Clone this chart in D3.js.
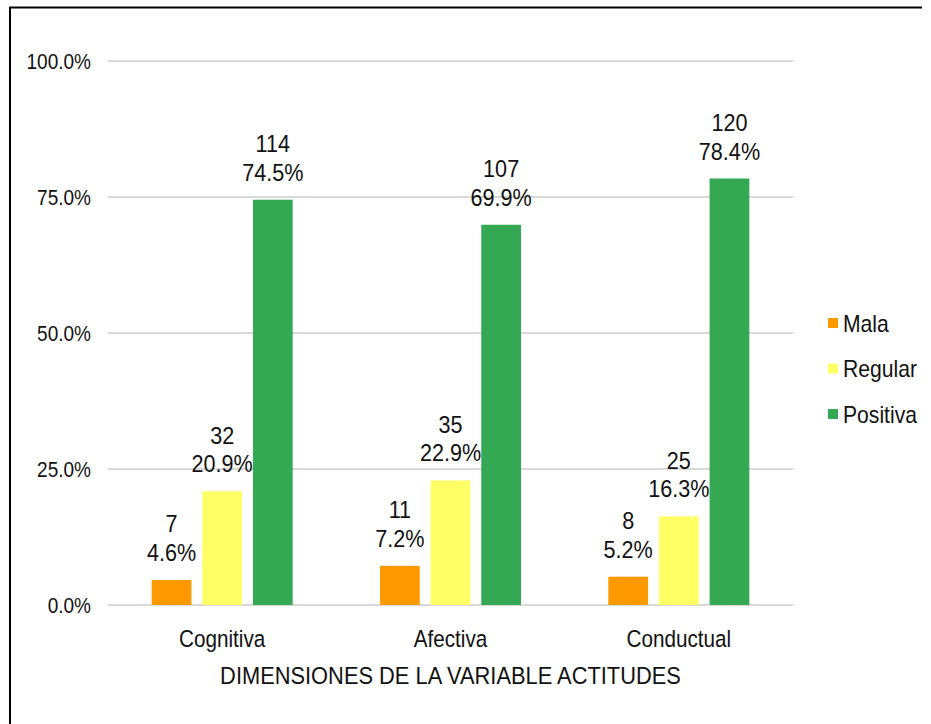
<!DOCTYPE html>
<html>
<head>
<meta charset="utf-8">
<script src="https://cdn.jsdelivr.net/npm/d3@7"></script>
<style>
  body { margin: 0; background: #fff; }
  svg { display: block; font-family: 'Liberation Sans', Arial, sans-serif; }
</style>
</head>
<body>
<svg id="chart" width="931" height="724"></svg>
<script>
const categories = ['Cognitiva', 'Afectiva', 'Conductual']
const seriesNames = ['Mala', 'Regular', 'Positiva']
const colors = ['#FF9900', '#FFFF66', '#34A853']
// counts and percentages per series, one entry per category
const mala = [7, 11, 8]
const malaPct = [4.6, 7.2, 5.2]
const regular = [32, 35, 25]
const regularPct = [20.9, 22.9, 16.3]
const positiva = [114, 107, 120]
const positivaPct = [74.5, 69.9, 78.4]
const yTicks = [0, 25, 50, 75, 100]

const counts = [mala, regular, positiva]
const pcts = [malaPct, regularPct, positivaPct]

const svg = d3.select('#chart')

// the source font looks a bit narrow, so squeeze text horizontally
function label (parent, x, y, size, sx, anchor) {
  return parent.append('text')
    .attr('transform', `translate(${x},${y}) scale(${sx},1)`)
    .attr('text-anchor', anchor || 'start')
    .attr('font-size', size)
    .attr('fill', '#111')
}

// frame (top and left edges only, like the source image)
svg.append('path')
  .attr('d', 'M10,724V7.5H922')
  .attr('fill', 'none')
  .attr('stroke', '#000')
  .attr('stroke-width', 2)

const plotLeft = 108
const plotRight = 793
const plotTop = 61
const plotBottom = 605

const x0 = d3.scaleBand().domain(categories).range([plotLeft, plotRight])
const x1 = d3.scaleBand().domain(seriesNames)
  .range([x0.bandwidth() / 2 - 70.5, x0.bandwidth() / 2 + 70.5])
  .paddingInner(0.215)
const y = d3.scaleLinear().domain([0, 100]).range([plotBottom, plotTop])

// gridlines
svg.append('g').selectAll('line')
  .data(yTicks)
  .join('line')
  .attr('x1', plotLeft)
  .attr('x2', plotRight)
  .attr('y1', d => y(d))
  .attr('y2', d => y(d))
  .attr('stroke', '#D9D9D9')
  .attr('stroke-width', 2)

// y tick labels
const yAxisG = svg.append('g')
yTicks.forEach(d => {
  label(yAxisG, 91, y(d) + 7.5, 21.5, 0.885, 'end')
    .text(d.toFixed(1) + '%')
})

// bars
const groups = svg.append('g').selectAll('g')
  .data(categories)
  .join('g')
  .attr('transform', d => `translate(${x0(d)},0)`)

groups.each(function (cat, ci) {
  const g = d3.select(this)
  seriesNames.forEach((s, si) => {
    const v = pcts[si][ci]
    const bx = x1(s)
    const bw = x1.bandwidth()
    g.append('rect')
      .attr('x', bx)
      .attr('y', y(v))
      .attr('width', bw)
      .attr('height', y(0) - y(v))
      .attr('fill', colors[si])
    const t = label(g, bx + bw / 2, y(v) - 19, 24, 0.9, 'middle')
    t.append('tspan')
      .attr('x', 0)
      .attr('y', -28.5)
      .text(counts[si][ci])
    t.append('tspan')
      .attr('x', 0)
      .attr('y', 0)
      .text(v.toFixed(1) + '%')
  })
})

// category labels
const catG = svg.append('g')
categories.forEach(d => {
  label(catG, x0(d) + x0.bandwidth() / 2, 647, 23.5, 0.88, 'middle').text(d)
})

// axis title
label(svg, (plotLeft + plotRight) / 2, 684, 23, 0.95, 'middle')
  .text('DIMENSIONES DE LA VARIABLE ACTITUDES')

// legend
const legend = svg.append('g').selectAll('g')
  .data(seriesNames)
  .join('g')
  .attr('transform', (d, i) => `translate(828,${323 + i * 45.5})`)

legend.append('rect')
  .attr('x', 0)
  .attr('y', -5)
  .attr('width', 10)
  .attr('height', 10)
  .attr('fill', (d, i) => colors[i])

legend.each(function (d) {
  label(d3.select(this), 15, 8.5, 23, 0.92).text(d)
})
</script>
</body>
</html>
